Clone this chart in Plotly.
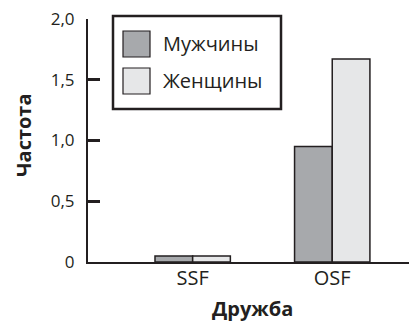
import plotly.graph_objects as go

categories = ["SSF", "OSF"]
men = [0.05, 0.95]
women = [0.05, 1.67]
series_names = ["Мужчины", "Женщины"]
ytick_vals = [0, 0.5, 1.0, 1.5, 2.0]
ytick_text = ["0", "0,5", "1,0", "1,5", "2,0"]

W, H = 409, 324
L, R, T, B = 88, 0, 19, 62
PW, PH = W - L - R, H - T - B
INK = "#231f20"
COLORS = ["#a7a9ac", "#e6e7e8"]
FONT = "Open Sans"

def px(x):
    return (x - L) / PW

def py(y):
    return (H - B - y) / PH

fig = go.Figure()
for name, vals, col in zip(series_names, [men, women], COLORS):
    fig.add_trace(go.Bar(x=categories, y=vals, name=name,
                         marker=dict(color=col, line=dict(color=INK, width=1.5)),
                         showlegend=False, hoverinfo="skip"))

shapes = [dict(type="rect", xref="paper", yref="paper",
               x0=px(113), x1=px(281), y0=py(109), y1=py(16),
               line=dict(color=INK, width=2.5), fillcolor="white")]
annotations = []
for i, (name, col) in enumerate(zip(series_names, COLORS)):
    top = 31 + i * 37
    shapes.append(dict(type="rect", xref="paper", yref="paper",
                       x0=px(123), x1=px(150), y0=py(top + 26), y1=py(top),
                       line=dict(color=INK, width=1.2), fillcolor=col))
    annotations.append(dict(text=name, xref="paper", yref="paper",
                            x=px(161), y=py(top + 13), xanchor="left", yanchor="middle",
                            showarrow=False, font=dict(family=FONT, size=20, color=INK)))

annotations.append(dict(text="<b>Дружба</b>", xref="paper", yref="paper",
                        x=px(253), y=py(308), xanchor="center", yanchor="middle",
                        showarrow=False, font=dict(family=FONT, size=20, color=INK)))
annotations.append(dict(text="<b>Частота</b>", xref="paper", yref="paper",
                        x=px(23), y=py(135), xanchor="center", yanchor="middle",
                        textangle=-90, showarrow=False,
                        font=dict(family=FONT, size=20, color=INK)))

fig.update_layout(
    width=W, height=H,
    margin=dict(l=L, r=R, t=T, b=B, pad=0),
    paper_bgcolor="white", plot_bgcolor="white",
    barmode="group", bargap=0.46, bargroupgap=0,
    shapes=shapes, annotations=annotations,
    font=dict(family=FONT, color=INK),
    xaxis=dict(range=[-0.75, 1.55], showline=True, linecolor=INK, linewidth=2,
               ticks="", showgrid=False, zeroline=False, ticklabelstandoff=-3,
               tickfont=dict(family=FONT, size=20, color=INK)),
    yaxis=dict(range=[0, 2.0], showline=True, linecolor=INK, linewidth=2,
               ticks="inside", ticklen=12, tickwidth=2.5, tickcolor=INK,
               tickvals=ytick_vals, ticktext=ytick_text,
               showgrid=False, zeroline=False, ticklabelstandoff=8,
               tickfont=dict(family=FONT, size=17, color=INK)),
)

fig.write_html(
    "out.html",
    config={"displayModeBar": False},
    post_script="document.body.style.margin='0';document.body.style.overflow='hidden';",
)
